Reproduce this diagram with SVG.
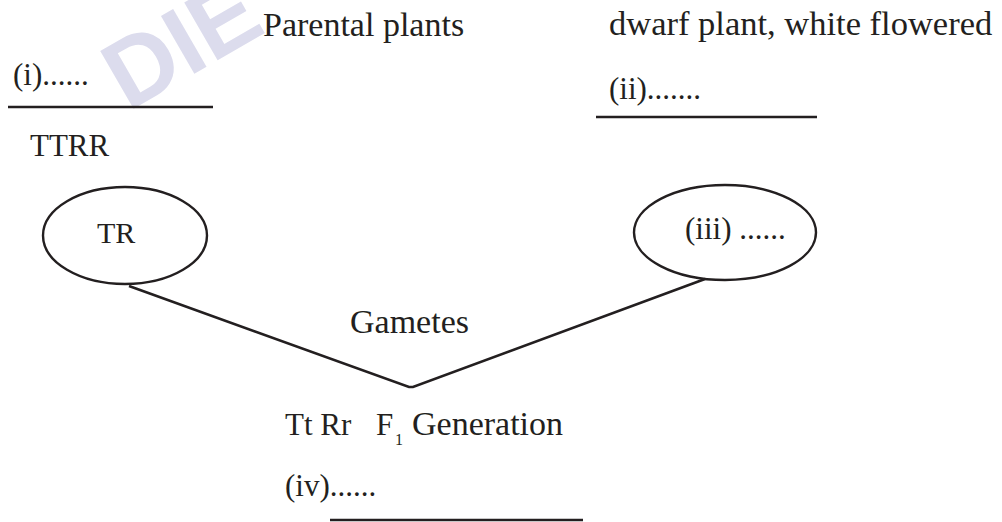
<svg xmlns="http://www.w3.org/2000/svg" width="1002" height="522" viewBox="0 0 1002 522">
  <style>
    .t { font-family: 'Liberation Serif', 'Times New Roman', Times, serif; fill: #231f20; }
    .ln { stroke: #231f20; stroke-width: 2.6; fill: none; }
    .node { stroke: #231f20; stroke-width: 2.4; fill: none; }
    .wm { font-family: 'Liberation Sans', Arial, sans-serif; font-weight: bold; fill: #dcdced; }
  </style>
  <rect width="1002" height="522" fill="#ffffff"/>
  <text class="wm" font-size="97" transform="translate(128,112) rotate(-30)">DIE</text>

  <g id="connectors">
    <polyline class="ln" points="129,286 409,387 413,387 705,279"/>
  </g>

  <g id="parental-label">
    <text class="t" font-family="Liberation Serif, serif" x="263" y="36" font-size="34">Parental plants</text>
  </g>
  <g id="parent1">
    <text class="t" font-family="Liberation Serif, serif" x="13" y="85" font-size="31">(i)......</text>
    <line class="ln" x1="8" y1="107" x2="213" y2="107"/>
    <text class="t" font-family="Liberation Serif, serif" x="30" y="156" font-size="31">TTRR</text>
  </g>
  <g id="parent2">
    <text class="t" font-family="Liberation Serif, serif" x="609" y="35" font-size="34.5">dwarf plant, white flowered</text>
    <text class="t" font-family="Liberation Serif, serif" x="609" y="99" font-size="31">(ii).......</text>
    <line class="ln" x1="596" y1="117" x2="817" y2="117"/>
  </g>
  <g id="gamete1">
    <ellipse class="node" cx="125" cy="235.5" rx="82" ry="48.5"/>
    <text class="t" font-family="Liberation Serif, serif" x="97" y="243" font-size="30">TR</text>
  </g>
  <g id="gamete2">
    <ellipse class="node" cx="725" cy="232.5" rx="91" ry="47.5"/>
    <text class="t" font-family="Liberation Serif, serif" x="685" y="239" font-size="31">(iii) ......</text>
  </g>
  <g id="gametes-label">
    <text class="t" font-family="Liberation Serif, serif" x="350" y="333" font-size="34">Gametes</text>
  </g>
  <g id="f1">
    <text class="t" font-family="Liberation Serif, serif" x="285" y="435" font-size="31">Tt Rr</text>
    <text class="t" font-family="Liberation Serif, serif" x="376" y="435" font-size="31">F</text>
    <text class="t" font-family="Liberation Serif, serif" x="395" y="445" font-size="16">1</text>
    <text class="t" font-family="Liberation Serif, serif" x="412" y="435" font-size="34">Generation</text>
    <text class="t" font-family="Liberation Serif, serif" x="285" y="496" font-size="31">(iv)......</text>
    <line class="ln" x1="330" y1="520" x2="583" y2="520"/>
  </g>
</svg>
